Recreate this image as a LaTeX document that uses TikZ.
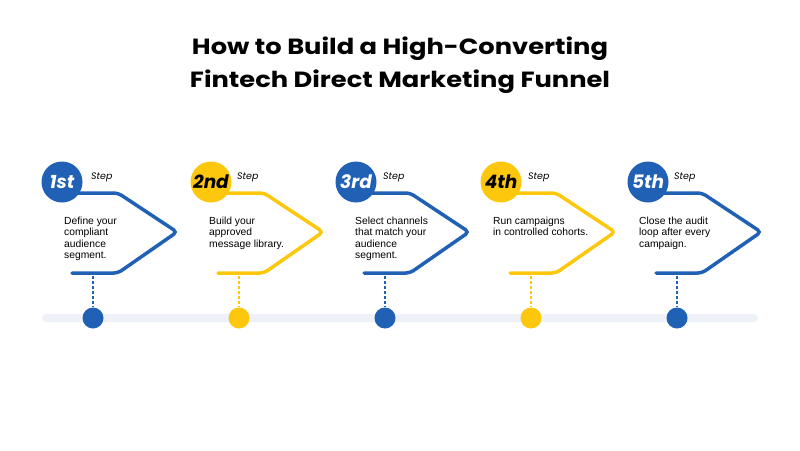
\documentclass[tikz,border=0pt]{standalone}
\usepackage{fontspec}
\setmainfont{Liberation Sans}
\newfontfamily\titlefont{Poppins}[FakeStretch=1.17]
\newfontfamily\ordfont{Poppins}
\definecolor{stepblue}{HTML}{2060B5}
\definecolor{stepyellow}{HTML}{FDC70E}
\definecolor{trackgray}{HTML}{EEF1F7}
\usetikzlibrary{positioning}
\tikzset{
	stepcircle/.style={
			circle,
			minimum size=41pt,
			inner sep=0pt,
			font=\ordfont\fontsize{18.5}{18.5}\selectfont\bfseries\itshape
		},
	bluecircle/.style={
			stepcircle,
			fill=stepblue,
			text=white
		},
	yellowcircle/.style={
			stepcircle,
			fill=stepyellow,
			text=black
		},
	chevron/.style={
			line width=3.5pt,
			rounded corners=4pt,
			line cap=round
		},
	steplabel/.style={
			anchor=west,
			inner sep=0pt,
			font=\ordfont\fontsize{9.5}{9.5}\selectfont\itshape
		},
	steptext/.style={
			anchor=north west,
			inner sep=0pt,
			align=left,
			font=\fontsize{10.3}{11.2}\selectfont
		},
	stemline/.style={
			line width=1.5pt,
			dash pattern=on 3pt off 2pt
		},
	stepdot/.style={
			circle,
			minimum size=21pt,
			inner sep=0pt
		}
}

\begin{document}
\begin{tikzpicture}[x=1pt, y=-1pt]
\useasboundingbox[fill=white] (0,0) rectangle (800,450);

\node[font=\titlefont\fontsize{22}{33}\selectfont\bfseries, align=center] (title) at (400,65)
  {How to Build a High-Converting\\Fintech Direct Marketing Funnel};

% timeline track
\fill[trackgray, rounded corners=4pt] (42,314) rectangle (758,322);

% step 1
\draw[chevron, stepblue] (62,193) -- (118,193) -- (177,232) -- (118,273) -- (72,273);
\node[bluecircle] (c1) at (62,182) {1st};
\node[steplabel] (s1) at (91,177) {Step};
\node[steptext] (t1) at (64,217) {Define your\\compliant\\audience\\segment.};
\coordinate (b1) at (93,276);
\node[stepdot, fill=stepblue] (d1) at (93,318) {};
\draw[stemline, stepblue] (b1) -- (d1);

% step 2
\draw[chevron, stepyellow] (208,193) -- (264,193) -- (323,232) -- (264,273) -- (218,273);
\node[yellowcircle] (c2) at (211,182) {2nd};
\node[steplabel] (s2) at (237,177) {Step};
\node[steptext] (t2) at (209,217) {Build your\\approved\\message library.};
\coordinate (b2) at (239,276);
\node[stepdot, fill=stepyellow] (d2) at (239,318) {};
\draw[stemline, stepyellow] (b2) -- (d2);

% step 3
\draw[chevron, stepblue] (354,193) -- (410,193) -- (469,232) -- (410,273) -- (364,273);
\node[bluecircle] (c3) at (356,182) {3rd};
\node[steplabel] (s3) at (383,177) {Step};
\node[steptext] (t3) at (355,217) {Select channels\\that match your\\audience\\segment.};
\coordinate (b3) at (385,276);
\node[stepdot, fill=stepblue] (d3) at (385,318) {};
\draw[stemline, stepblue] (b3) -- (d3);

% step 4
\draw[chevron, stepyellow] (500,193) -- (556,193) -- (615,232) -- (556,273) -- (510,273);
\node[yellowcircle] (c4) at (501,182) {4th};
\node[steplabel] (s4) at (528,177) {Step};
\node[steptext] (t4) at (493,217) {Run campaigns\\in controlled cohorts.};
\coordinate (b4) at (531,276);
\node[stepdot, fill=stepyellow] (d4) at (531,318) {};
\draw[stemline, stepyellow] (b4) -- (d4);

% step 5
\draw[chevron, stepblue] (646,193) -- (702,193) -- (761,232) -- (702,273) -- (656,273);
\node[bluecircle] (c5) at (648,182) {5th};
\node[steplabel] (s5) at (674,177) {Step};
\node[steptext] (t5) at (639,217) {Close the audit\\loop after every\\campaign.};
\coordinate (b5) at (677,276);
\node[stepdot, fill=stepblue] (d5) at (677,318) {};
\draw[stemline, stepblue] (b5) -- (d5);
\end{tikzpicture}
\end{document}
